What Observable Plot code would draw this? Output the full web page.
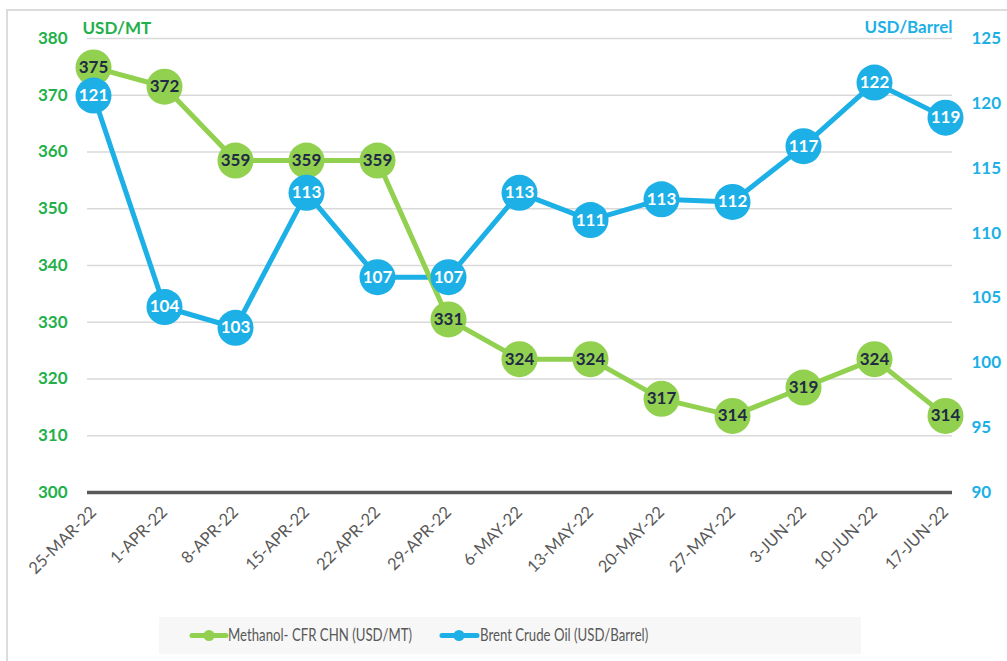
<!DOCTYPE html>
<html><head><meta charset="utf-8">
<script src="https://cdn.jsdelivr.net/npm/d3@7"></script>
<script src="https://cdn.jsdelivr.net/npm/@observablehq/plot@0.6"></script>
<style>
body{margin:0;background:#fff;font-family:Lato,sans-serif}
#wrap{position:relative;width:1007px;height:661px;overflow:hidden;background:#fff}
#frame{position:absolute;left:6px;top:9px;width:1100px;height:700px;border-left:2px solid #dcdcdc;border-top:2px solid #dcdcdc}
#chart{position:absolute;left:0;top:0}
#legend{position:absolute;left:159px;top:617px;width:702px;height:37px;background:#f7f7f7}
#legend svg{position:absolute;left:0;top:0}
.lt{position:absolute;top:7px;font-size:16.5px;color:#595959;white-space:nowrap;line-height:22px;transform:scaleX(0.8);transform-origin:0 50%}
</style></head>
<body>
<div id="wrap"><div id="frame"></div><div id="chart"></div>
<div id="legend">
<svg width="702" height="37">
<line x1="33" x2="67" y1="18.5" y2="18.5" stroke="#92d050" stroke-width="5" stroke-linecap="round"/>
<circle cx="50" cy="18.5" r="5.5" fill="#92d050"/>
<line x1="283" x2="318" y1="18.5" y2="18.5" stroke="#1cb0e6" stroke-width="5" stroke-linecap="round"/>
<circle cx="300" cy="18.5" r="5.5" fill="#1cb0e6"/>
</svg>
<span class="lt" id="l1" style="left:69px">Methanol- CFR CHN (USD/MT)</span>
<span class="lt" id="l2" style="left:321px">Brent Crude Oil (USD/Barrel)</span>
</div>
</div>
<script>
const dates = ["25-MAR-22","1-APR-22","8-APR-22","15-APR-22","22-APR-22","29-APR-22","6-MAY-22","13-MAY-22","20-MAY-22","27-MAY-22","3-JUN-22","10-JUN-22","17-JUN-22"];
const methanol = [374.9, 371.5, 358.5, 358.5, 358.5, 330.5, 323.5, 323.5, 316.5, 313.5, 318.5, 323.5, 313.5];
const brent = [120.6, 104.3, 102.7, 113.1, 106.6, 106.6, 113.1, 111.0, 112.6, 112.4, 116.7, 121.6, 118.9];
const leftTicks = [300, 310, 320, 330, 340, 350, 360, 370, 380];
const rightTicks = [90, 95, 100, 105, 110, 115, 120, 125];

const toLeft = d3.scaleLinear().domain([90, 125]).range([300, 380]);
const mData = dates.map((d, i) => ({date: d, v: methanol[i], y: methanol[i]}));
const bData = dates.map((d, i) => ({date: d, v: brent[i], y: toLeft(brent[i])}));

const GREEN_TXT = "#22b04b", BLUE = "#1cb0e6", GREEN = "#92d050";

const chart = Plot.plot({
  width: 1007, height: 600,
  marginLeft: 91, marginRight: 60, marginTop: 38, marginBottom: 108,
  style: {fontFamily: "Lato, sans-serif", fontSize: "15px", background: "transparent"},
  x: {type: "point", domain: dates, padding: 0},
  y: {domain: [300, 380], nice: false},
  marks: [
    Plot.ruleY(leftTicks.filter(v => v > 300), {stroke: "#d9d9d9", strokeWidth: 1.5, insetLeft: -4, insetRight: -5}),
    Plot.ruleY([300], {stroke: "#595959", strokeWidth: 3.5, insetLeft: -4, insetRight: -5}),
    Plot.axisY({ticks: leftTicks, anchor: "left", label: null, tickSize: 0, tickPadding: 24, color: GREEN_TXT, fontWeight: "bold", fontSize: 17, tickFormat: d => String(d)}),
    Plot.axisY({ticks: rightTicks.map(v => toLeft(v)), anchor: "right", label: null, tickSize: 0, tickPadding: 24, color: BLUE, fontWeight: "bold", fontSize: 17, tickFormat: d => String(Math.round(toLeft.invert(d)))}),
    Plot.axisX({tickRotate: -45, label: null, tickSize: 0, tickPadding: 17, color: "#595959", fontSize: 16.5}),
    Plot.text(["USD/MT"], {frameAnchor: "top-left", dx: -9, dy: -10, textAnchor: "start", lineAnchor: "middle", fill: GREEN_TXT, fontWeight: "bold", fontSize: 17}),
    Plot.text(["USD/Barrel"], {frameAnchor: "top-right", dx: 5, dy: -11, textAnchor: "end", lineAnchor: "middle", fill: BLUE, fontWeight: "bold", fontSize: 17}),
    Plot.line(bData, {x: "date", y: "y", stroke: BLUE, strokeWidth: 5}),
    Plot.line(mData, {x: "date", y: "y", stroke: GREEN, strokeWidth: 5}),
    Plot.dot(mData, {x: "date", y: "y", r: 18, fill: GREEN}),
    Plot.text(mData, {x: "date", y: "y", text: d => String(Math.round(d.v)), fill: "#1f2a44", fontWeight: "bold", fontSize: 17}),
    Plot.dot(bData, {x: "date", y: "y", r: 18, fill: BLUE}),
    Plot.text(bData, {x: "date", y: "y", text: d => String(Math.round(d.v)), fill: "#ffffff", fontWeight: "bold", fontSize: 17})
  ]
});
document.getElementById("chart").appendChild(chart);
</script>
</body></html>
